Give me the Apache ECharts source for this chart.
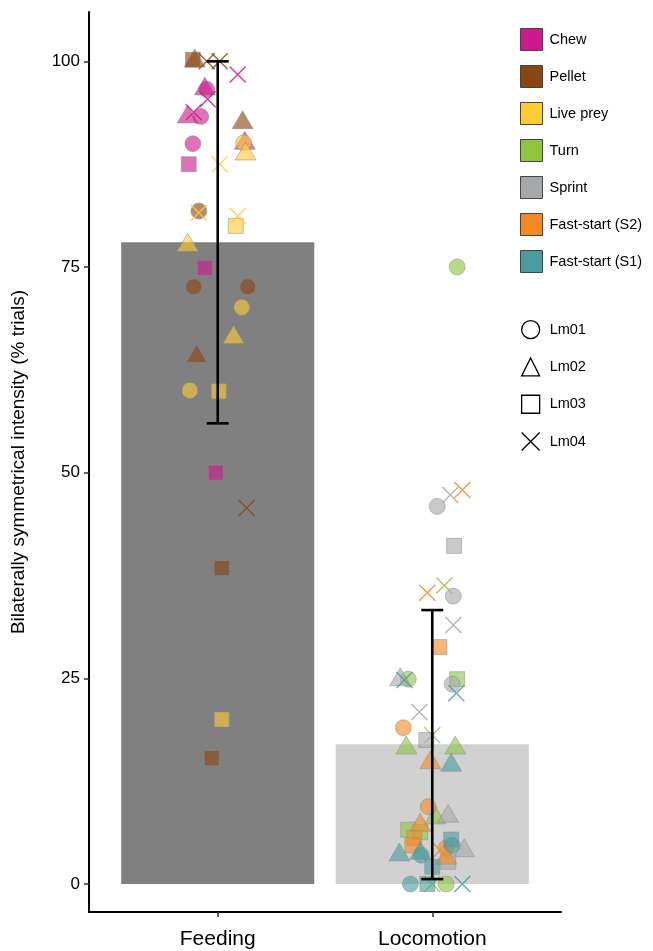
<!DOCTYPE html>
<html>
<head>
<meta charset="utf-8">
<script src="https://cdn.jsdelivr.net/npm/echarts@6/dist/echarts.min.js"></script>
<style>
  html, body { margin: 0; padding: 0; background: #fff; }
  #chart { width: 653px; height: 951px; }
</style>
</head>
<body>
<div id="chart"></div>
<script>
// Task categories and summary statistics
const categories = ['Feeding', 'Locomotion'];
const barMeans = [78, 17];
const errLow = [56, 0.6];
const errHigh = [100, 33.3];

// Behaviours and individuals
const behaviours = ['Chew', 'Pellet', 'Live prey', 'Turn', 'Sprint', 'Fast-start (S2)', 'Fast-start (S1)'];
const individuals = ['Lm01', 'Lm02', 'Lm03', 'Lm04'];

// Trial points per behaviour: [jittered category position, value, individual index]
const chewPts = [
  [0.949, 96.6, 0], [0.921, 93.3, 0], [0.884, 90.0, 0],
  [0.940, 97.0, 1], [0.860, 93.6, 1], [1.126, 90.4, 1],
  [0.865, 87.5, 2], [0.940, 74.9, 2], [0.991, 50.0, 2],
  [1.093, 98.4, 3], [0.953, 95.4, 3], [0.888, 93.8, 3]
];
const pelletPts = [
  [0.912, 81.8, 0], [0.888, 72.6, 0], [1.140, 72.6, 0],
  [0.893, 100.4, 1], [1.116, 92.9, 1], [0.902, 64.5, 1],
  [0.884, 100.2, 2], [1.019, 38.4, 2], [0.972, 15.3, 2],
  [0.949, 100.0, 3], [1.009, 100.0, 3], [1.135, 45.7, 3]
];
const livePreyPts = [
  [1.112, 70.1, 0], [0.870, 60.0, 0], [1.121, 90.1, 0],
  [1.130, 89.1, 1], [0.860, 78.0, 1], [1.074, 66.8, 1],
  [1.084, 80.0, 2], [1.005, 59.9, 2], [1.019, 20.0, 2],
  [1.009, 87.5, 3], [0.912, 81.6, 3], [1.093, 81.2, 3]
];
const turnPts = [
  [1.888, 24.9, 0], [2.116, 75.0, 0], [2.065, 0.0, 0],
  [1.879, 16.9, 1], [2.107, 16.9, 1], [2.014, 8.4, 1],
  [2.116, 24.9, 2], [1.888, 6.6, 2], [1.944, 6.3, 2],
  [2.056, 36.3, 3], [2.000, 18.1, 3], [2.000, 0.0, 3]
];
const sprintPts = [
  [2.023, 45.9, 0], [2.098, 35.0, 0], [2.093, 24.3, 0],
  [1.851, 25.2, 1], [2.074, 8.6, 1], [2.149, 4.4, 1],
  [2.102, 41.1, 2], [1.972, 17.5, 2], [2.074, 2.7, 2],
  [2.084, 47.3, 3], [2.098, 31.5, 3], [1.940, 20.9, 3]
];
const fastS2Pts = [
  [1.865, 19.0, 0], [1.981, 9.4, 0], [2.065, 4.4, 0],
  [1.991, 15.1, 1], [1.944, 7.5, 1], [2.065, 3.5, 1],
  [2.033, 28.8, 2], [1.916, 5.6, 2], [1.907, 4.7, 2],
  [2.140, 47.9, 3], [1.977, 35.4, 3], [2.037, 4.1, 3]
];
const fastS1Pts = [
  [1.898, 0.0, 0], [1.949, 3.5, 0], [2.093, 4.7, 0],
  [2.088, 14.8, 1], [1.847, 3.9, 1], [1.944, 4.1, 1],
  [2.088, 5.4, 2], [2.000, 2.1, 2], [1.977, 0.0, 2],
  [1.870, 24.8, 3], [2.112, 23.2, 3], [2.140, 0.0, 3]
];
const yTicks = [0, 25, 50, 75, 100];

const pointSets = [chewPts, pelletPts, livePreyPts, turnPts, sprintPts, fastS2Pts, fastS1Pts];
const colours = ['#CC1A8C', '#8B4513', '#FFCC33', '#8DC540', '#A6A8AB', '#F58A24', '#4C9C9F'];
const crossPath = 'path://M0,0L10,10M10,0L0,10';
const shapeSymbols = ['circle', 'triangle', 'rect', crossPath];
const shapeSizes = [16, [21, 18], 15, 16];

const font = 'Liberation Sans, Arial, sans-serif';

const chart = echarts.init(document.getElementById('chart'), null, { renderer: 'canvas' });

const pointSeries = behaviours.map((name, b) => ({
  name: name,
  type: 'scatter',
  z: 3,
  data: pointSets[b].map(p => {
    const lm = p[2];
    const isCross = lm === 3;
    return {
      value: [p[0], p[1]],
      symbol: shapeSymbols[lm],
      symbolSize: shapeSizes[lm],
      itemStyle: isCross
        ? { color: 'rgba(0,0,0,0)', borderColor: colours[b], borderWidth: 1.4, opacity: 0.85 }
        : { color: colours[b], borderColor: '#8a8a8a', borderWidth: 0.8, opacity: 0.62 }
    };
  }),
  emphasis: { disabled: true }
}));

// Empty series so that the shape legend has entries
const shapeSeries = individuals.map((name, i) => ({
  name: name, type: 'scatter', data: [], symbol: shapeSymbols[i]
}));

const barSeries = {
  type: 'custom',
  z: 1,
  silent: true,
  data: barMeans.map((m, i) => [i + 1, m]),
  renderItem: function (params, api) {
    const x = api.value(0), y = api.value(1);
    const p0 = api.coord([x - 0.45, y]);
    const p1 = api.coord([x + 0.45, 0]);
    return {
      type: 'rect',
      shape: { x: p0[0], y: p0[1], width: p1[0] - p0[0], height: p1[1] - p0[1] },
      style: { fill: params.dataIndex === 0 ? '#808080' : '#D1D1D1' }
    };
  }
};

const errSeries = {
  type: 'custom',
  z: 5,
  silent: true,
  data: errLow.map((lo, i) => [i + 1, lo, errHigh[i]]),
  renderItem: function (params, api) {
    const x = api.value(0);
    const lo = api.coord([x, api.value(1)]);
    const hi = api.coord([x, api.value(2)]);
    const half = 11;
    const st = { stroke: '#000', lineWidth: 2.6 };
    return {
      type: 'group',
      children: [
        { type: 'line', shape: { x1: lo[0], y1: lo[1], x2: hi[0], y2: hi[1] }, style: st },
        { type: 'line', shape: { x1: lo[0] - half, y1: lo[1], x2: lo[0] + half, y2: lo[1] }, style: st },
        { type: 'line', shape: { x1: hi[0] - half, y1: hi[1], x2: hi[0] + half, y2: hi[1] }, style: st }
      ]
    };
  }
};

const option = {
  animation: false,
  backgroundColor: '#fff',
  grid: { left: 89, right: 92, top: 12, bottom: 39, containLabel: false },
  xAxis: {
    type: 'value',
    min: 0.4,
    max: 2.6,
    splitLine: { show: false },
    axisLine: { show: true, onZero: false, lineStyle: { color: '#000', width: 2 } },
    axisTick: { show: true, length: 5, lineStyle: { color: '#333', width: 1.5 }, customValues: [1, 2] },
    axisLabel: {
      customValues: [1, 2],
      formatter: v => categories[Math.round(v) - 1] || '',
      color: '#000', fontSize: 21, fontFamily: font, margin: 17
    }
  },
  yAxis: {
    type: 'value',
    min: -3.4,
    max: 106,
    splitLine: { show: false },
    axisLine: { show: true, onZero: false, lineStyle: { color: '#000', width: 2 } },
    axisTick: { show: true, length: 5, lineStyle: { color: '#333', width: 1.5 }, customValues: yTicks },
    axisLabel: {
      customValues: yTicks,
      color: '#000', fontSize: 17, fontFamily: font, margin: 9
    },
    name: 'Bilaterally symmetrical intensity (% trials)',
    nameLocation: 'middle',
    nameGap: 61,
    nameTextStyle: { color: '#000', fontSize: 19, fontFamily: font }
  },
  legend: [
    {
      orient: 'vertical',
      left: 520,
      top: 28,
      padding: 0,
      itemWidth: 22,
      itemHeight: 22,
      itemGap: 14,
      selectedMode: false,
      textStyle: { color: '#000', fontSize: 14.5, fontFamily: font, padding: [0, 0, 0, 2] },
      data: behaviours.map((n, b) => ({
        name: n,
        icon: 'rect',
        itemStyle: { color: colours[b], borderColor: '#444', borderWidth: 1, opacity: 1 }
      }))
    },
    {
      orient: 'vertical',
      left: 521,
      top: 320,
      padding: 0,
      itemWidth: 18,
      itemHeight: 18,
      itemGap: 18,
      selectedMode: false,
      textStyle: { color: '#000', fontSize: 14.5, fontFamily: font, padding: [0, 0, 0, 5] },
      data: individuals.map((n, i) => ({
        name: n,
        icon: i === 0 ? 'circle' : i === 1 ? 'triangle' : i === 2 ? 'rect' : crossPath,
        itemStyle: { color: '#fff', borderColor: '#000', borderWidth: 1.3, opacity: 1 }
      }))
    }
  ],
  series: [barSeries].concat(pointSeries, shapeSeries, [errSeries])
};

chart.setOption(option);
</script>
</body>
</html>
